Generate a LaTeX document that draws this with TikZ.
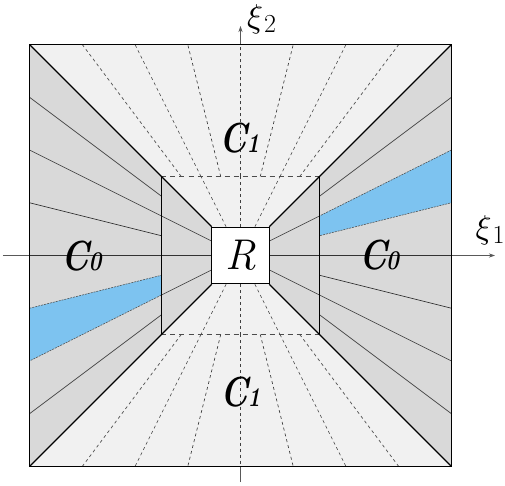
\documentclass[tikz,border=0pt]{standalone}
\usetikzlibrary{arrows.meta}
\definecolor{lightC}{RGB}{241,241,241}
\definecolor{darkC}{RGB}{217,217,217}
\definecolor{bandblue}{RGB}{125,195,240}
\def\oa{211}
\def\mm{79}
\def\rr{28.8}
\begin{document}
\begin{tikzpicture}[x=1pt,y=-1pt,
  thinsolid/.style={line width=0.65pt, black!80},
  thindash/.style={line width=0.65pt, black!75, dash pattern=on 3pt off 3pt},
  diag/.style={line width=1.3pt, black},
  midedge/.style={line width=1.2pt, black},
  middash/.style={line width=0.9pt, black!70, dash pattern=on 5pt off 4pt},
  axisline/.style={line width=0.7pt, black!65, -{Stealth[length=6pt,width=4pt]}},
  bandfill/.style={fill=bandblue, draw=black!70, line width=0.5pt, dash pattern=on 2pt off 1pt},
  lab/.style={font=\fontsize{42}{42}\selectfont\bfseries\itshape, inner sep=0pt},
  axlab/.style={inner sep=0pt},
]
\useasboundingbox (-240.5,-255.5) rectangle (264.5,230.5);
% axes
\coordinate (xs) at (-237.5,0);
\coordinate (xe) at (254.5,0);
\coordinate (ys) at (0,226.5);
\coordinate (ye) at (0,-229.5);
\draw[axisline] (xs) -- (xe);
\draw[axisline] (ys) -- (ye);
% region fills
\fill[lightC] (-\oa,-\oa) rectangle (\oa,\oa);
\fill[darkC] (-\oa,-\oa) -- (-\rr,-\rr) -- (-\rr,\rr) -- (-\oa,\oa) -- cycle;
\fill[darkC] (\oa,-\oa) -- (\rr,-\rr) -- (\rr,\rr) -- (\oa,\oa) -- cycle;
% blue bands
\path[bandfill] (-\oa,0.25*\oa) -- (-\mm,0.25*\mm) -- (-\mm,0.5*\mm) -- (-\oa,0.5*\oa) -- cycle;
\path[bandfill] (\oa,-0.5*\oa) -- (\mm,-0.5*\mm) -- (\mm,-0.25*\mm) -- (\oa,-0.25*\oa) -- cycle;
% outer rays
\foreach \s in {-0.75,-0.5,-0.25,0,0.75}
  \draw[thinsolid] (-\mm,\s*\mm) -- (-\oa,\s*\oa);
\foreach \s in {-0.75,0,0.25,0.5,0.75}
  \draw[thinsolid] (\mm,\s*\mm) -- (\oa,\s*\oa);
\foreach \s in {-0.75,-0.5,-0.25,0,0.25,0.5,0.75} {
  \draw[thindash] (\s*\mm,-\mm) -- (\s*\oa,-\oa);
  \draw[thindash] (\s*\mm,\mm) -- (\s*\oa,\oa);
}
% inner rays
\foreach \s in {-0.5,0,0.5} {
  \draw[thinsolid] (-\rr,\s*\rr) -- (-\mm,\s*\mm);
  \draw[thinsolid] (\rr,\s*\rr) -- (\mm,\s*\mm);
  \draw[thindash] (\s*\rr,-\rr) -- (\s*\mm,-\mm);
  \draw[thindash] (\s*\rr,\rr) -- (\s*\mm,\mm);
}
% middle square
\draw[middash] (-\mm,-\mm) -- (\mm,-\mm);
\draw[middash] (-\mm,\mm) -- (\mm,\mm);
\draw[midedge] (-\mm,-\mm) -- (-\mm,\mm);
\draw[midedge] (\mm,-\mm) -- (\mm,\mm);
% diagonals
\draw[diag] (-\oa,-\oa) -- (-\rr,-\rr);
\draw[diag] (\oa,-\oa) -- (\rr,-\rr);
\draw[diag] (-\oa,\oa) -- (-\rr,\rr);
\draw[diag] (\oa,\oa) -- (\rr,\rr);
% outer square
\draw[line width=1.6pt] (-\oa,-\oa) rectangle (\oa,\oa);
% R
\node[draw, line width=1.8pt, fill=white, minimum width=58pt, minimum height=56pt, inner sep=0pt, font=\fontsize{43}{43}\selectfont\itshape] (R) at (0,0) {R};
% labels
\node[lab] (c1t) at (-1,-117.5) {\scalebox{0.8}[1]{C\kern-1pt{\fontsize{27}{27}\selectfont 1}}};
\node[lab] (c1b) at (0,137) {\scalebox{0.8}[1]{C\kern-1pt{\fontsize{27}{27}\selectfont 1}}};
\node[lab] (c0l) at (-159,1) {\scalebox{0.8}[1]{C\kern-1pt{\fontsize{27}{27}\selectfont 0}}};
\node[lab] (c0r) at (138.5,0) {\scalebox{0.8}[1]{C\kern-1pt{\fontsize{27}{27}\selectfont 0}}};
\node[axlab] (xi2) at (21,-236.5) {\scalebox{3.3}{$\xi$}\kern1pt\raisebox{-5pt}{\fontsize{26}{26}\selectfont 2}};
\node[axlab] (xi1) at (249.5,-25.5) {\scalebox{3.3}{$\xi$}\kern1pt\raisebox{-5pt}{\fontsize{26}{26}\selectfont 1}};
\end{tikzpicture}
\end{document}
